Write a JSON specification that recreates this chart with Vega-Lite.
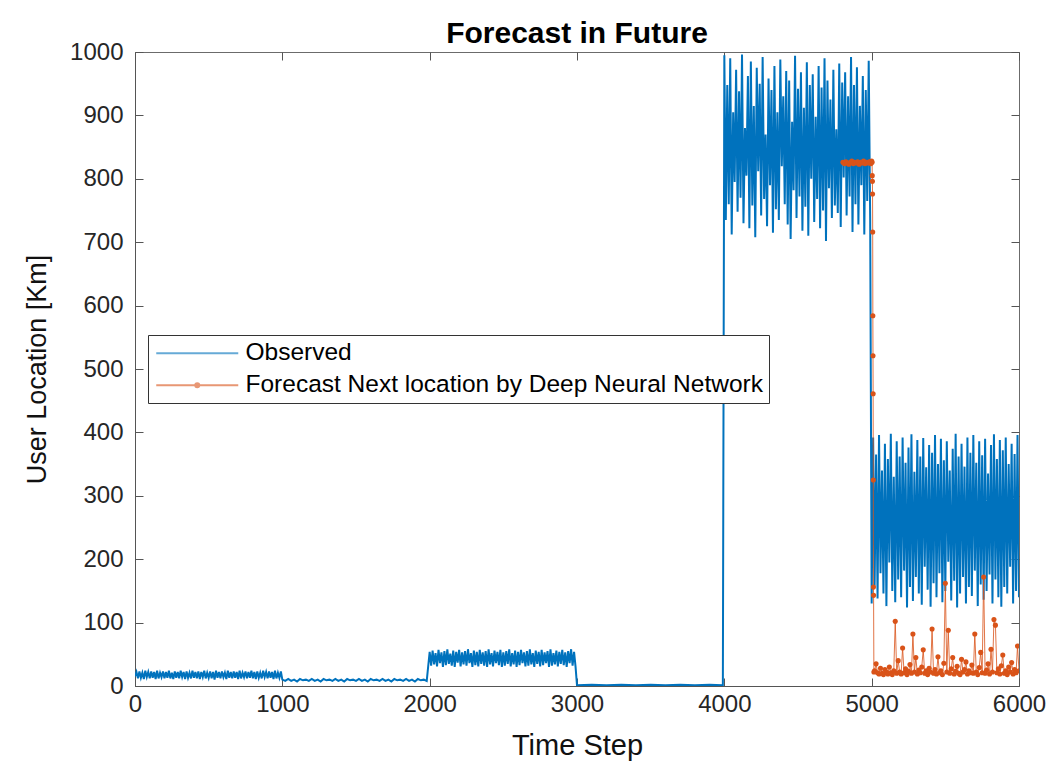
{
"$schema": "https://vega.github.io/schema/vega-lite/v6.json",
"width": 884, "height": 634,
"autosize": {"type": "none"},
"padding": {"left": 135, "top": 52, "right": 40, "bottom": 81},
"background": "white",
"title": {"text": "Forecast in Future", "font": "Liberation Sans", "fontSize": 30, "fontWeight": "bold", "color": "#000000", "anchor": "middle", "offset": -9},
"config": {
 "view": {"stroke": "#6b6b6b", "strokeWidth": 1},
 "axis": {"labelFont": "Liberation Sans", "labelFontSize": 24, "labelColor": "#262626", "titleFont": "Liberation Sans", "titleFontSize": 27, "titleFontWeight": "normal", "titleColor": "#111111", "tickColor": "#555555", "domainColor": "#555555", "grid": false, "labelFlush": false, "labelOverlap": false, "format": "d"}
},
"datasets": {
"obs": [
{"t":0,"v":15},{"t":10,"v":22},{"t":20,"v":12},{"t":30,"v":23},{"t":40,"v":13},{"t":50,"v":21},{"t":60,"v":11},{"t":70,"v":24},{"t":80,"v":14},{"t":90,"v":22},
{"t":100,"v":12},{"t":110,"v":23},{"t":120,"v":13},{"t":130,"v":22},{"t":140,"v":11},{"t":150,"v":24},{"t":160,"v":12},{"t":170,"v":21},{"t":180,"v":14},{"t":190,"v":23},
{"t":200,"v":12},{"t":210,"v":22},{"t":220,"v":13},{"t":230,"v":24},{"t":240,"v":12},{"t":250,"v":21},{"t":260,"v":11},{"t":270,"v":23},{"t":280,"v":13},{"t":290,"v":22},
{"t":300,"v":12},{"t":310,"v":24},{"t":320,"v":14},{"t":330,"v":22},{"t":340,"v":11},{"t":350,"v":23},{"t":360,"v":13},{"t":370,"v":21},{"t":380,"v":12},{"t":390,"v":24},
{"t":400,"v":13},{"t":410,"v":22},{"t":420,"v":12},{"t":430,"v":23},{"t":440,"v":11},{"t":450,"v":22},{"t":460,"v":14},{"t":470,"v":24},{"t":480,"v":12},{"t":490,"v":21},
{"t":500,"v":13},{"t":510,"v":23},{"t":520,"v":12},{"t":530,"v":22},{"t":540,"v":10},{"t":550,"v":24},{"t":560,"v":13},{"t":570,"v":22},{"t":580,"v":12},{"t":590,"v":23},
{"t":600,"v":14},{"t":610,"v":21},{"t":620,"v":11},{"t":630,"v":24},{"t":640,"v":13},{"t":650,"v":22},{"t":660,"v":12},{"t":670,"v":23},{"t":680,"v":13},{"t":690,"v":22},
{"t":700,"v":11},{"t":710,"v":24},{"t":720,"v":12},{"t":730,"v":21},{"t":740,"v":14},{"t":750,"v":23},{"t":760,"v":12},{"t":770,"v":22},{"t":780,"v":13},{"t":790,"v":24},
{"t":800,"v":12},{"t":810,"v":22},{"t":820,"v":11},{"t":830,"v":23},{"t":840,"v":13},{"t":850,"v":21},{"t":860,"v":12},{"t":870,"v":24},{"t":880,"v":14},{"t":890,"v":22},
{"t":900,"v":12},{"t":910,"v":23},{"t":920,"v":13},{"t":930,"v":22},{"t":940,"v":11},{"t":950,"v":24},{"t":960,"v":12},{"t":970,"v":21},{"t":980,"v":13},{"t":990,"v":23},
{"t":1000,"v":10},{"t":1020,"v":8},{"t":1040,"v":11},{"t":1060,"v":8},{"t":1080,"v":10},{"t":1100,"v":7},{"t":1120,"v":11},{"t":1140,"v":9},{"t":1160,"v":10},{"t":1180,"v":8},
{"t":1200,"v":11},{"t":1220,"v":8},{"t":1240,"v":10},{"t":1260,"v":7},{"t":1280,"v":11},{"t":1300,"v":9},{"t":1320,"v":10},{"t":1340,"v":8},{"t":1360,"v":11},{"t":1380,"v":8},
{"t":1400,"v":10},{"t":1420,"v":7},{"t":1440,"v":11},{"t":1460,"v":9},{"t":1480,"v":10},{"t":1500,"v":8},{"t":1520,"v":11},{"t":1540,"v":8},{"t":1560,"v":10},{"t":1580,"v":7},
{"t":1600,"v":11},{"t":1620,"v":9},{"t":1640,"v":10},{"t":1660,"v":8},{"t":1680,"v":11},{"t":1700,"v":8},{"t":1720,"v":10},{"t":1740,"v":7},{"t":1760,"v":11},{"t":1780,"v":9},
{"t":1800,"v":10},{"t":1820,"v":8},{"t":1840,"v":11},{"t":1860,"v":8},{"t":1880,"v":10},{"t":1900,"v":7},{"t":1920,"v":11},{"t":1940,"v":9},{"t":1960,"v":10},{"t":1980,"v":8},
{"t":2000,"v":54},{"t":2010,"v":32},{"t":2020,"v":56},{"t":2030,"v":34},{"t":2040,"v":52},{"t":2050,"v":31},{"t":2060,"v":57},{"t":2070,"v":36},{"t":2080,"v":53},{"t":2090,"v":30},
{"t":2100,"v":55},{"t":2110,"v":33},{"t":2120,"v":58},{"t":2130,"v":35},{"t":2140,"v":51},{"t":2150,"v":32},{"t":2160,"v":56},{"t":2170,"v":30},{"t":2180,"v":54},{"t":2190,"v":37},
{"t":2200,"v":57},{"t":2210,"v":31},{"t":2220,"v":53},{"t":2230,"v":34},{"t":2240,"v":55},{"t":2250,"v":32},{"t":2260,"v":58},{"t":2270,"v":36},{"t":2280,"v":52},{"t":2290,"v":30},
{"t":2300,"v":56},{"t":2310,"v":33},{"t":2320,"v":54},{"t":2330,"v":31},{"t":2340,"v":57},{"t":2350,"v":35},{"t":2360,"v":53},{"t":2370,"v":32},{"t":2380,"v":55},{"t":2390,"v":30},
{"t":2400,"v":58},{"t":2410,"v":34},{"t":2420,"v":52},{"t":2430,"v":31},{"t":2440,"v":56},{"t":2450,"v":36},{"t":2460,"v":54},{"t":2470,"v":33},{"t":2480,"v":57},{"t":2490,"v":30},
{"t":2500,"v":53},{"t":2510,"v":32},{"t":2520,"v":55},{"t":2530,"v":35},{"t":2540,"v":58},{"t":2550,"v":31},{"t":2560,"v":52},{"t":2570,"v":34},{"t":2580,"v":56},{"t":2590,"v":30},
{"t":2600,"v":54},{"t":2610,"v":33},{"t":2620,"v":57},{"t":2630,"v":36},{"t":2640,"v":53},{"t":2650,"v":31},{"t":2660,"v":55},{"t":2670,"v":32},{"t":2680,"v":58},{"t":2690,"v":34},
{"t":2700,"v":52},{"t":2710,"v":30},{"t":2720,"v":56},{"t":2730,"v":35},{"t":2740,"v":54},{"t":2750,"v":31},{"t":2760,"v":57},{"t":2770,"v":33},{"t":2780,"v":53},{"t":2790,"v":36},
{"t":2800,"v":55},{"t":2810,"v":30},{"t":2820,"v":58},{"t":2830,"v":32},{"t":2840,"v":52},{"t":2850,"v":34},{"t":2860,"v":56},{"t":2870,"v":31},{"t":2880,"v":54},{"t":2890,"v":35},
{"t":2900,"v":57},{"t":2910,"v":33},{"t":2920,"v":53},{"t":2930,"v":30},{"t":2940,"v":55},{"t":2950,"v":36},{"t":2960,"v":58},{"t":2970,"v":32},{"t":2980,"v":54},{"t":2990,"v":31},
{"t":3000,"v":1},{"t":3100,"v":2},{"t":3200,"v":1},{"t":3300,"v":2},{"t":3400,"v":1},{"t":3500,"v":2},{"t":3600,"v":1},{"t":3700,"v":2},{"t":3800,"v":1},{"t":3900,"v":2},{"t":3990,"v":1},
{"t":4000,"v":995},{"t":4010,"v":735},{"t":4020,"v":948},{"t":4030,"v":760},{"t":4040,"v":990},{"t":4050,"v":712},{"t":4060,"v":905},{"t":4070,"v":795},{"t":4080,"v":972},{"t":4090,"v":748},
{"t":4100,"v":938},{"t":4110,"v":770},{"t":4120,"v":996},{"t":4130,"v":730},{"t":4140,"v":880},{"t":4150,"v":805},{"t":4160,"v":962},{"t":4170,"v":722},{"t":4180,"v":985},{"t":4190,"v":758},
{"t":4200,"v":915},{"t":4210,"v":708},{"t":4220,"v":975},{"t":4230,"v":812},{"t":4240,"v":950},{"t":4250,"v":742},{"t":4260,"v":992},{"t":4270,"v":768},{"t":4280,"v":870},{"t":4290,"v":725},
{"t":4300,"v":958},{"t":4310,"v":790},{"t":4320,"v":940},{"t":4330,"v":715},{"t":4340,"v":978},{"t":4350,"v":752},{"t":4360,"v":905},{"t":4370,"v":735},{"t":4380,"v":988},{"t":4390,"v":820},
{"t":4400,"v":930},{"t":4410,"v":760},{"t":4420,"v":970},{"t":4430,"v":728},{"t":4440,"v":955},{"t":4450,"v":705},{"t":4460,"v":890},{"t":4470,"v":782},{"t":4480,"v":994},{"t":4490,"v":738},
{"t":4500,"v":942},{"t":4510,"v":772},{"t":4520,"v":968},{"t":4530,"v":718},{"t":4540,"v":912},{"t":4550,"v":756},{"t":4560,"v":984},{"t":4570,"v":710},{"t":4580,"v":948},{"t":4590,"v":800},
{"t":4600,"v":965},{"t":4610,"v":732},{"t":4620,"v":898},{"t":4630,"v":768},{"t":4640,"v":978},{"t":4650,"v":722},{"t":4660,"v":944},{"t":4670,"v":750},{"t":4680,"v":990},{"t":4690,"v":702},
{"t":4700,"v":955},{"t":4710,"v":785},{"t":4720,"v":925},{"t":4730,"v":738},{"t":4740,"v":972},{"t":4750,"v":758},{"t":4760,"v":878},{"t":4770,"v":746},{"t":4780,"v":982},{"t":4790,"v":724},
{"t":4800,"v":952},{"t":4810,"v":802},{"t":4820,"v":968},{"t":4830,"v":742},{"t":4840,"v":930},{"t":4850,"v":772},{"t":4860,"v":992},{"t":4870,"v":716},{"t":4880,"v":948},{"t":4890,"v":760},
{"t":4900,"v":976},{"t":4910,"v":728},{"t":4920,"v":915},{"t":4930,"v":790},{"t":4940,"v":962},{"t":4950,"v":712},{"t":4960,"v":940},{"t":4970,"v":765},{"t":4980,"v":986},{"t":4990,"v":735},
{"t":5000,"v":130},{"t":5010,"v":392},{"t":5020,"v":158},{"t":5030,"v":365},{"t":5040,"v":138},{"t":5050,"v":396},{"t":5060,"v":178},{"t":5070,"v":340},{"t":5080,"v":146},{"t":5090,"v":382},
{"t":5100,"v":126},{"t":5110,"v":358},{"t":5120,"v":195},{"t":5130,"v":398},{"t":5140,"v":150},{"t":5150,"v":330},{"t":5160,"v":132},{"t":5170,"v":386},{"t":5180,"v":168},{"t":5190,"v":362},
{"t":5200,"v":140},{"t":5210,"v":392},{"t":5220,"v":182},{"t":5230,"v":352},{"t":5240,"v":124},{"t":5250,"v":376},{"t":5260,"v":156},{"t":5270,"v":397},{"t":5280,"v":134},{"t":5290,"v":338},
{"t":5300,"v":172},{"t":5310,"v":388},{"t":5320,"v":146},{"t":5330,"v":362},{"t":5340,"v":128},{"t":5350,"v":391},{"t":5360,"v":188},{"t":5370,"v":345},{"t":5380,"v":152},{"t":5390,"v":380},
{"t":5400,"v":125},{"t":5410,"v":368},{"t":5420,"v":162},{"t":5430,"v":396},{"t":5440,"v":140},{"t":5450,"v":350},{"t":5460,"v":178},{"t":5470,"v":390},{"t":5480,"v":132},{"t":5490,"v":356},
{"t":5500,"v":150},{"t":5510,"v":386},{"t":5520,"v":196},{"t":5530,"v":340},{"t":5540,"v":135},{"t":5550,"v":374},{"t":5560,"v":166},{"t":5570,"v":398},{"t":5580,"v":124},{"t":5590,"v":362},
{"t":5600,"v":146},{"t":5610,"v":382},{"t":5620,"v":172},{"t":5630,"v":346},{"t":5640,"v":130},{"t":5650,"v":392},{"t":5660,"v":156},{"t":5670,"v":368},{"t":5680,"v":142},{"t":5690,"v":396},
{"t":5700,"v":182},{"t":5710,"v":352},{"t":5720,"v":126},{"t":5730,"v":386},{"t":5740,"v":160},{"t":5750,"v":364},{"t":5760,"v":136},{"t":5770,"v":390},{"t":5780,"v":150},{"t":5790,"v":335},
{"t":5800,"v":176},{"t":5810,"v":380},{"t":5820,"v":130},{"t":5830,"v":397},{"t":5840,"v":168},{"t":5850,"v":358},{"t":5860,"v":140},{"t":5870,"v":388},{"t":5880,"v":125},{"t":5890,"v":372},
{"t":5900,"v":156},{"t":5910,"v":392},{"t":5920,"v":146},{"t":5930,"v":350},{"t":5940,"v":188},{"t":5950,"v":382},{"t":5960,"v":130},{"t":5970,"v":366},{"t":5980,"v":150},{"t":5990,"v":396},{"t":6000,"v":140}
],
"fc": [
{"t":4805,"v":826},{"t":4815,"v":824},{"t":4825,"v":827},{"t":4835,"v":825},{"t":4845,"v":823},{"t":4855,"v":826},{"t":4865,"v":828},{"t":4875,"v":824},{"t":4885,"v":826},{"t":4895,"v":825},
{"t":4905,"v":827},{"t":4915,"v":823},{"t":4925,"v":826},{"t":4935,"v":825},{"t":4945,"v":828},{"t":4955,"v":824},{"t":4965,"v":826},{"t":4975,"v":825},{"t":4985,"v":827},{"t":4995,"v":824},
{"t":5000,"v":828},{"t":5003,"v":826},{"t":5004,"v":805},{"t":5005,"v":796},{"t":5006,"v":776},{"t":5007,"v":716},{"t":5008,"v":584},{"t":5009,"v":521},{"t":5010,"v":461},{"t":5011,"v":325},
{"t":5012,"v":156},{"t":5013,"v":143},{"t":5015,"v":22},
{"t":5020,"v":24},{"t":5030,"v":35},{"t":5040,"v":21},{"t":5050,"v":19},{"t":5060,"v":28},{"t":5070,"v":20},{"t":5080,"v":18},{"t":5090,"v":26},
{"t":5100,"v":22},{"t":5110,"v":19},{"t":5120,"v":30},{"t":5130,"v":21},{"t":5140,"v":18},{"t":5150,"v":24},{"t":5160,"v":102},{"t":5170,"v":20},{"t":5180,"v":40},{"t":5190,"v":22},
{"t":5200,"v":19},{"t":5210,"v":60},{"t":5220,"v":21},{"t":5230,"v":27},{"t":5240,"v":18},{"t":5250,"v":23},{"t":5260,"v":34},{"t":5270,"v":20},{"t":5280,"v":82},{"t":5290,"v":22},
{"t":5300,"v":45},{"t":5310,"v":19},{"t":5320,"v":25},{"t":5330,"v":21},{"t":5340,"v":30},{"t":5350,"v":57},{"t":5360,"v":20},{"t":5370,"v":24},{"t":5380,"v":18},{"t":5390,"v":28},
{"t":5400,"v":22},{"t":5410,"v":90},{"t":5420,"v":20},{"t":5430,"v":26},{"t":5440,"v":19},{"t":5450,"v":46},{"t":5460,"v":21},{"t":5470,"v":24},{"t":5480,"v":18},{"t":5490,"v":36},
{"t":5500,"v":162},{"t":5510,"v":22},{"t":5520,"v":88},{"t":5530,"v":20},{"t":5540,"v":27},{"t":5550,"v":45},{"t":5560,"v":19},{"t":5570,"v":23},{"t":5580,"v":31},{"t":5590,"v":20},
{"t":5600,"v":18},{"t":5610,"v":42},{"t":5620,"v":22},{"t":5630,"v":26},{"t":5640,"v":38},{"t":5650,"v":19},{"t":5660,"v":24},{"t":5670,"v":21},{"t":5680,"v":33},{"t":5690,"v":20},
{"t":5700,"v":82},{"t":5710,"v":22},{"t":5720,"v":18},{"t":5730,"v":29},{"t":5740,"v":53},{"t":5750,"v":21},{"t":5760,"v":172},{"t":5770,"v":20},{"t":5780,"v":25},{"t":5790,"v":35},
{"t":5800,"v":19},{"t":5810,"v":58},{"t":5820,"v":22},{"t":5830,"v":105},{"t":5840,"v":96},{"t":5850,"v":21},{"t":5860,"v":27},{"t":5870,"v":19},{"t":5880,"v":32},{"t":5890,"v":49},
{"t":5900,"v":20},{"t":5910,"v":24},{"t":5920,"v":18},{"t":5930,"v":30},{"t":5940,"v":22},{"t":5950,"v":37},{"t":5960,"v":19},{"t":5970,"v":26},{"t":5980,"v":21},{"t":5990,"v":63},{"t":6000,"v":24}
]
},
"resolve": {"axis": {"x": "independent", "y": "independent"}},
"layer": [
 {
  "data": {"name": "obs"},
  "mark": {"type": "line", "strokeWidth": 2, "clip": true},
  "encoding": {
   "x": {"field": "t", "type": "quantitative", "scale": {"domain": [0, 6000], "nice": false, "zero": false},
         "axis": {"orient": "bottom", "values": [0,1000,2000,3000,4000,5000,6000], "title": "Time Step", "titleFontSize": 29, "tickSize": -8, "labelPadding": 14, "titlePadding": 15}},
   "y": {"field": "v", "type": "quantitative", "scale": {"domain": [0, 1000], "nice": false},
         "axis": {"orient": "left", "values": [0,100,200,300,400,500,600,700,800,900,1000], "title": "User Location [Km]", "tickSize": -8, "labelPadding": 20, "titlePadding": 18}},
   "color": {"datum": "Observed", "type": "nominal",
     "scale": {"domain": ["Observed", "Forecast Next location by Deep Neural Network"], "range": ["#0072BD", "#D95319"]},
     "legend": {"orient": "none", "legendX": 13, "legendY": 283, "title": null, "direction": "vertical",
       "labelFont": "Liberation Sans", "labelFontSize": 24.5, "labelColor": "#000000", "labelLimit": 0,
       "strokeColor": "#333333", "fillColor": "#ffffff", "padding": 6, "rowPadding": 7,
       "symbolSize": 400, "labelOffset": 67, "symbolStrokeWidth": 2, "symbolOpacity": 0.6,
       "encode": {"symbols": {"update": {
         "shape": {"signal": "datum.value === 'Observed' ? 'M-1,0H7.2' : 'M-1,0H7.2M2.9,0a0.2,0.2 0 1,0 0.4,0a0.2,0.2 0 1,0 -0.4,0'"},
         "fill": {"signal": "datum.value === 'Observed' ? 'transparent' : '#D95319'"},
         "stroke": {"signal": "datum.value === 'Observed' ? '#0072BD' : '#D95319'"}
       }}}
     }}
  }
 },
 {
  "data": {"name": "fc"},
  "mark": {"type": "line", "strokeWidth": 1, "opacity": 0.8, "clip": true},
  "encoding": {
   "x": {"field": "t", "type": "quantitative", "axis": {"orient": "top", "values": [0,1000,2000,3000,4000,5000,6000], "labels": false, "title": null, "domain": false, "tickSize": -8}},
   "y": {"field": "v", "type": "quantitative", "axis": {"orient": "right", "values": [0,100,200,300,400,500,600,700,800,900,1000], "labels": false, "title": null, "domain": false, "tickSize": -8}},
   "color": {"datum": "Forecast Next location by Deep Neural Network", "type": "nominal"}
  }
 },
 {
  "data": {"name": "fc"},
  "mark": {"type": "point", "filled": true, "size": 26, "opacity": 1, "clip": true},
  "encoding": {
   "x": {"field": "t", "type": "quantitative", "axis": null},
   "y": {"field": "v", "type": "quantitative", "axis": null},
   "color": {"datum": "Forecast Next location by Deep Neural Network", "type": "nominal"}
  }
 }
]
}
